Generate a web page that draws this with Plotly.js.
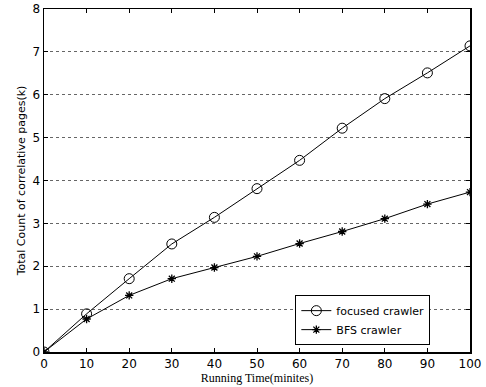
<!DOCTYPE html>
<html><head><meta charset="utf-8">
<script src="https://cdn.plot.ly/plotly-3.0.1.min.js"></script>
<style>html,body{margin:0;padding:0;background:#fff}</style>
</head><body><div id="c" style="width:486px;height:387px"></div>
<script>
const minutes = [0,10,20,30,40,50,60,70,80,90,100];
const focused = [0,0.89,1.71,2.52,3.14,3.81,4.47,5.22,5.91,6.51,7.14];
const bfs = [0,0.77,1.32,1.71,1.97,2.23,2.53,2.81,3.11,3.45,3.73];
const xTicks = [0,10,20,30,40,50,60,70,80,90,100];
const yTicks = [0,1,2,3,4,5,6,7,8];

const traces = [
 {x:minutes,y:focused,name:'focused crawler',mode:'lines+markers',
  line:{color:'#000',width:1},marker:{symbol:'circle-open',size:10,color:'#000',line:{width:1,color:'#000'}}},
 {x:minutes,y:bfs,name:'BFS crawler',mode:'lines+markers',
  line:{color:'#000',width:1},marker:{symbol:'asterisk-open',size:7,color:'#000',line:{width:1.3,color:'#000'}}}
];
const layout = {
 width:486,height:387,margin:{l:44,r:16,t:9,b:35},
 paper_bgcolor:'#fff',plot_bgcolor:'#fff',showlegend:true,
 font:{family:'DejaVu Sans, sans-serif',size:11,color:'#000'},
 xaxis:{range:[0,100],tickvals:xTicks,ticks:'inside',ticklen:4,tickcolor:'#000',
  showline:true,linecolor:'#000',linewidth:1.5,mirror:'ticks',showgrid:false,zeroline:false,
  tickfont:{family:'DejaVu Sans, sans-serif',size:12},
  title:{text:'Running Time(minites)',font:{family:'Liberation Serif, serif',size:12},standoff:2}},
 yaxis:{range:[0,8],tickvals:yTicks,ticks:'inside',ticklen:4,tickcolor:'#000',
  showline:true,linecolor:'#000',linewidth:1.5,mirror:'ticks',showgrid:true,gridcolor:'#000',griddash:'dot',gridwidth:0.6,zeroline:false,
  tickfont:{family:'DejaVu Sans, sans-serif',size:12},
  title:{text:'Total Count of correlative pages(k)',font:{family:'DejaVu Sans, sans-serif',size:11},standoff:4}},
 legend:{x:0.59,y:0.02,xanchor:'left',yanchor:'bottom',bgcolor:'#fff',bordercolor:'#000',borderwidth:1,
  font:{family:'DejaVu Sans, sans-serif',size:11},tracegroupgap:0,itemwidth:30}
};
Plotly.newPlot('c',traces,layout,{displayModeBar:false,staticPlot:true});
</script></body></html>
